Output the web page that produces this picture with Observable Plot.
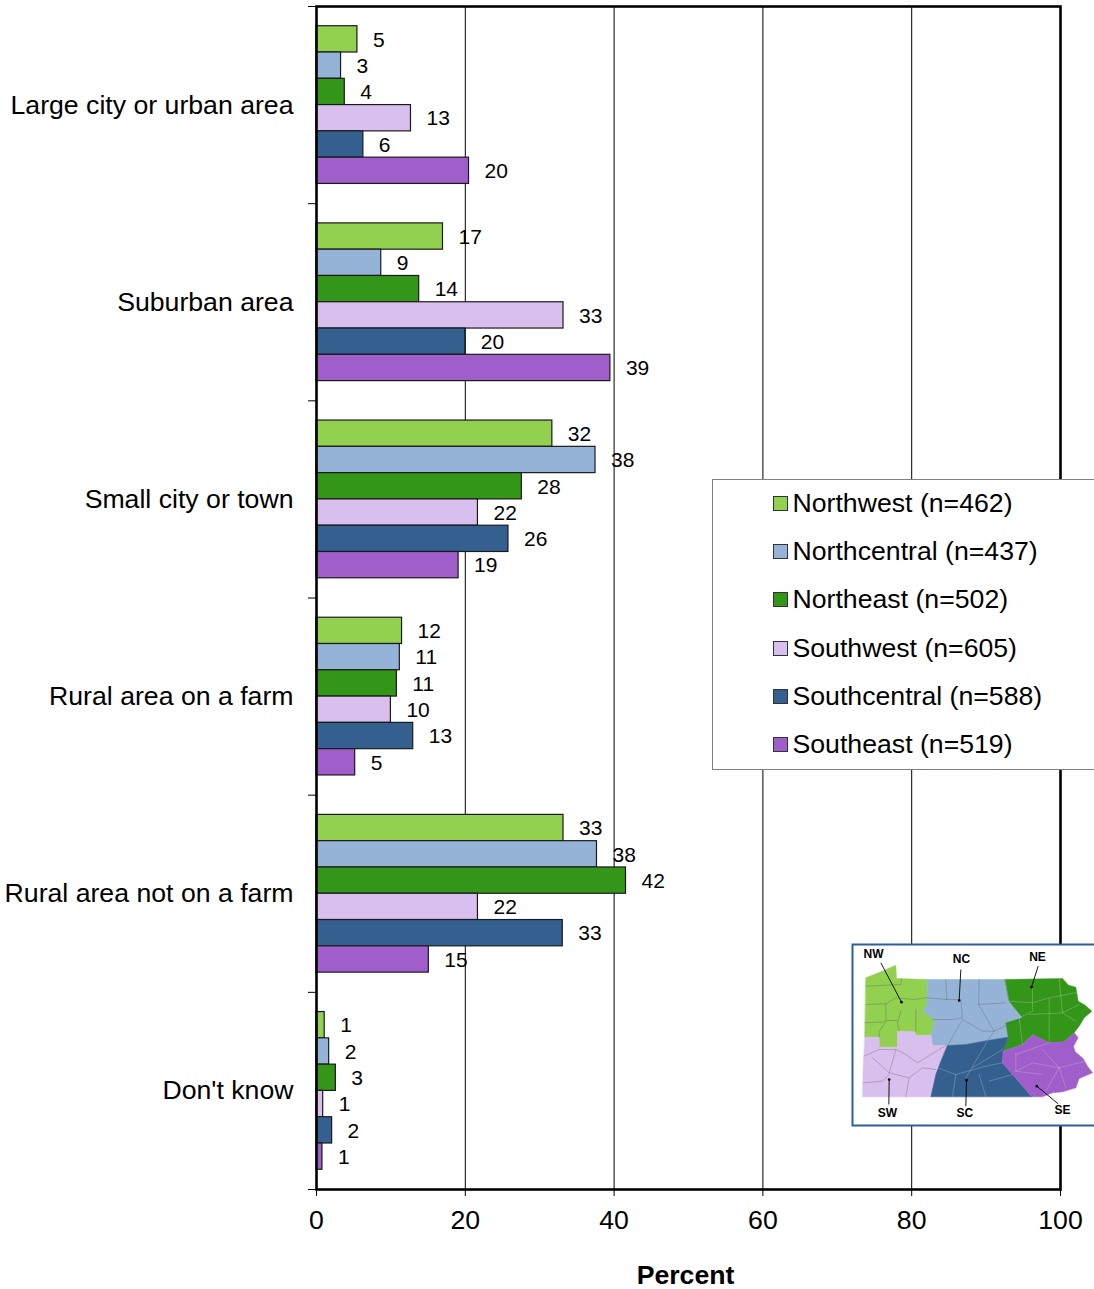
<!DOCTYPE html>
<html>
<head>
<meta charset="utf-8">
<script src="https://cdn.jsdelivr.net/npm/d3@7"></script>
<script src="https://cdn.jsdelivr.net/npm/@observablehq/plot@0.6"></script>
<style>
html,body{margin:0;padding:0;background:#fff;overflow:hidden;}
#root{position:relative;width:1094px;height:1289px;overflow:hidden;font-family:"Liberation Sans",Arial,sans-serif;color:#000;}
#root>svg{position:absolute;left:0;top:0;}
#legend{position:absolute;left:712px;top:479px;width:400px;height:289px;background:#fff;border:1px solid #808080;box-sizing:content-box;}
.item{position:absolute;left:60px;height:28px;display:flex;align-items:center;font-size:26.67px;line-height:28px;white-space:nowrap;}
.sw{width:13px;height:13px;border:1px solid #333;margin-right:5px;flex:none;}
#root>svg#map{left:851.5px;top:944px;}
</style>
</head>
<body>
<div id="root"></div>
<script>
const categories = ["Large city or urban area","Suburban area","Small city or town","Rural area on a farm","Rural area not on a farm","Don't know"];
const regions = ["Northwest","Northcentral","Northeast","Southwest","Southcentral","Southeast"];
const counts = [462,437,502,605,588,519];
const colors = ["#92d050","#95b3d7","#339619","#d9bfed","#34608f","#a05ecb"];
const northwest = [5.5,17.0,31.7,11.5,33.2,1.1];
const northcentral = [3.3,8.7,37.5,11.2,37.7,1.7];
const northeast = [3.8,13.8,27.6,10.8,41.6,2.6];
const southwest = [12.7,33.2,21.7,10.0,21.7,0.9];
const southcentral = [6.3,20.0,25.8,13.0,33.1,2.1];
const southeast = [20.5,39.5,19.1,5.2,15.1,0.8];
const labelsNorthwest = [5,17,32,12,33,1];
const labelsNorthcentral = [3,9,38,11,38,2];
const labelsNortheast = [4,14,28,11,42,3];
const labelsSouthwest = [13,33,22,10,22,1];
const labelsSouthcentral = [6,20,26,13,33,2];
const labelsSoutheast = [20,39,19,5,15,1];
const xTicks = [0,20,40,60,80,100];

const seriesValues = [northwest,northcentral,northeast,southwest,southcentral,southeast];
const seriesLabels = [labelsNorthwest,labelsNorthcentral,labelsNortheast,labelsSouthwest,labelsSouthcentral,labelsSoutheast];
const slot = 1/7.5;
const rows = categories.flatMap((category,c) => regions.map((region,r) => ({
  category, region, value: seriesValues[r][c], label: seriesLabels[r][c],
  y1: c + 0.75*slot + r*slot, y2: c + 0.75*slot + (r+1)*slot, yMid: c + 0.75*slot + (r+0.5)*slot
})));

const chart = Plot.plot({
  width:1094, height:1289,
  marginLeft:316, marginRight:34, marginTop:6, marginBottom:100,
  style:{fontFamily:'"Liberation Sans",Arial,sans-serif',background:"transparent",color:"#000",overflow:"visible"},
  x:{domain:[0,100],label:null},
  y:{domain:[6,0],label:null},
  color:{domain:regions,range:colors},
  marks:[
    Plot.ruleX(xTicks.slice(1,-1),{stroke:"#000",strokeWidth:1}),
    Plot.rectX(rows,{x1:0,x2:"value",y1:"y1",y2:"y2",fill:"region",stroke:"#1a1a1a",strokeWidth:1.2,inset:0}),
    Plot.text(rows,{x:"value",y:"yMid",text:d=>String(d.label),textAnchor:"start",dx:15.5,dy:0.5,fontSize:21,fill:"#000"}),
    Plot.axisX({ticks:xTicks,tickSize:7,tickPadding:14,fontSize:26.67,stroke:"#000",label:null,tickFormat:d=>d}),
    Plot.axisY({ticks:d3.range(0,7),tickSize:8,tickFormat:()=>"",label:null,stroke:"#000"}),
    Plot.axisY({ticks:categories.map((_,i)=>i+0.5),tickSize:0,tickPadding:23,fontSize:26.67,label:null,tickFormat:d=>categories[Math.floor(d)],lineAnchor:"middle"}),
    Plot.text(["Percent"],{x:()=>49.6,y:()=>6,frameAnchor:"bottom",dy:94,text:d=>d,fontSize:26.67,fontWeight:"bold",fill:"#000"}),
    Plot.frame({stroke:"#000",strokeWidth:2.6})
  ]
});
const root = document.getElementById("root");
root.appendChild(chart);

const legend = document.createElement("div");
legend.id = "legend";
const legendY = [23,71,119,168,216,264];
regions.forEach((r,i)=>{
  const it = document.createElement("div");
  it.className = "item";
  it.style.top = (legendY[i]-14)+"px";
  const s = document.createElement("span");
  s.className = "sw"; s.style.background = colors[i];
  const t = document.createElement("span");
  t.textContent = `${r} (n=${counts[i]})`;
  t.style.marginLeft = "-0.5px";
  it.append(s,t);
  legend.appendChild(it);
});
root.appendChild(legend);

// Inset locator map, traced in crop units
const outlineNW = [[60,130],[105,112],[150,92],[152,132],[245,135],[243,210],[232,230],[267,258],[255,302],[210,303],[205,292],[155,290],[155,338],[100,338],[100,308],[57,308]];
const outlineNC = [[245,135],[478,135],[490,200],[530,250],[480,265],[487,308],[425,318],[360,330],[305,333],[260,333],[255,302],[267,258],[232,230],[243,210]];
const outlineNE = [[478,135],[650,132],[668,152],[690,158],[697,200],[718,212],[738,230],[715,250],[702,272],[685,295],[655,322],[610,325],[560,300],[530,330],[472,350],[487,308],[480,265],[530,250],[490,200]];
const outlineSW = [[57,308],[100,308],[100,338],[155,338],[155,290],[205,292],[210,303],[255,302],[260,333],[305,333],[285,380],[270,420],[255,487],[50,487],[52,400]];
const outlineSC = [[305,333],[360,330],[425,318],[487,308],[472,350],[470,385],[500,420],[558,487],[255,487],[270,420],[285,380]];
const outlineSE = [[472,350],[530,330],[560,300],[610,325],[655,322],[685,295],[697,310],[683,335],[688,352],[712,372],[725,395],[740,415],[700,432],[690,460],[650,472],[620,475],[590,487],[558,487],[500,420],[470,385]];
const outlines = [outlineNW,outlineNC,outlineNE,outlineSW,outlineSC,outlineSE];
const countyLines = [
 [[60,155],[165,150],[167,133]],[[60,210],[120,208],[150,190],[205,195],[243,190]],[[120,208],[120,258],[155,258]],[[57,265],[120,262],[100,290],[100,308]],[[165,230],[155,265],[160,290]],[[210,225],[210,290]],
 [[300,135],[303,195],[245,190]],[[400,135],[398,210],[478,205]],[[303,195],[345,195],[350,250],[320,255],[260,255]],[[398,210],[445,290],[425,318]],[[350,255],[305,333]],[[350,255],[410,290],[445,290],[530,250]],
 [[55,365],[100,345],[150,345],[180,360],[215,385],[300,333]],[[80,370],[130,415],[190,430],[180,487]],[[130,415],[150,345]],[[52,445],[110,440],[130,420]],[[190,430],[230,400],[270,405]]
];
const lightCountyLines = [
 [[490,200],[560,205],[610,190],[690,175]],[[560,160],[560,230],[520,250]],[[640,132],[650,235],[700,210]],[[550,240],[650,235],[690,260]],[[610,190],[610,320]],[[520,250],[530,330]],
 [[275,400],[330,420],[420,395],[470,385]],[[330,420],[320,487]],[[360,430],[425,320]],[[380,400],[470,345]],[[400,420],[420,487]],[[430,440],[500,420]],
 [[510,355],[510,410],[590,420]],[[510,360],[610,325]],[[590,345],[640,400],[590,487]],[[510,410],[560,385],[640,400],[720,380]],[[640,400],[660,460]]
];
const pins = [
 {code:"NW",lx:83,ly:58,x1:105,y1:85,x2:167,y2:203},
 {code:"NC",lx:347,ly:75,x1:345,y1:105,x2:340,y2:198},
 {code:"NE",lx:575,ly:67,x1:577,y1:95,x2:557,y2:158},
 {code:"SW",lx:125,ly:535,x1:129,y1:510,x2:130,y2:435},
 {code:"SC",lx:357,ly:537,x1:360,y1:515,x2:362,y2:437},
 {code:"SE",lx:650,ly:528,x1:637,y1:508,x2:573,y2:455}
];
const mapRegions = regions.flatMap((r,i)=>outlines[i].map(([x,y])=>({r,x,y})));
const mapCounties = countyLines.flatMap((l,i)=>l.map(([x,y])=>({i,x,y})));
const mapLightCounties = lightCountyLines.flatMap((l,i)=>l.map(([x,y])=>({i,x,y})));
// crop units: 3 per screen pixel; origin at the frame's crop position (20,30)
const mapW = 300, mapH = 181;
const map = Plot.plot({
  width:mapW, height:mapH, margin:0,
  style:{fontFamily:'"Liberation Sans",Arial,sans-serif',background:"transparent",overflow:"visible",display:"block"},
  x:{axis:null,domain:[20,20+mapW*3],range:[0,mapW]},
  y:{axis:null,domain:[30,30+mapH*3],range:[0,mapH]},
  color:{domain:regions,range:colors},
  marks:[
    Plot.frame({fill:"#fff",stroke:"#2f5f9a",strokeWidth:2}),
    Plot.line(mapRegions,{x:"x",y:"y",z:"r",fill:"r",stroke:"r",strokeWidth:0.5,curve:"linear-closed"}),
    Plot.line(mapCounties,{x:"x",y:"y",z:"i",stroke:"#555",strokeOpacity:0.55,strokeWidth:0.6,curve:"linear"}),
    Plot.line(mapLightCounties,{x:"x",y:"y",z:"i",stroke:"#cfd8cf",strokeOpacity:0.55,strokeWidth:0.6,strokeDasharray:"1.5,1",curve:"linear"}),
    Plot.link(pins,{x1:"x1",y1:"y1",x2:"x2",y2:"y2",stroke:"#000",strokeWidth:0.9}),
    Plot.dot(pins,{x:"x2",y:"y2",r:1.3,fill:"#000"}),
    Plot.text(pins,{x:"lx",y:"ly",text:"code",fontSize:12,fontWeight:"bold",fill:"#000"})
  ]
});
map.id = "map";
root.appendChild(map);
</script>
</body>
</html>
